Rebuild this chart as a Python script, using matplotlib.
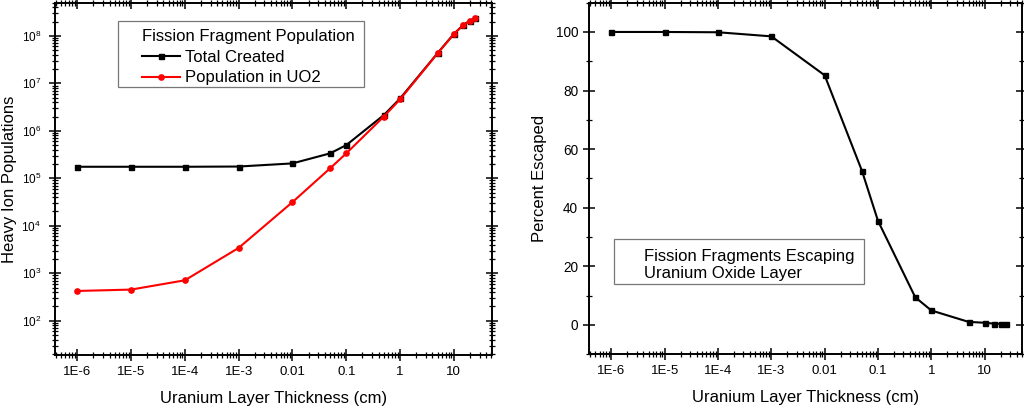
import matplotlib
matplotlib.use("Agg")
import matplotlib.pyplot as plt
from matplotlib.patches import Rectangle
from matplotlib.ticker import FixedLocator, FixedFormatter, LogLocator, MultipleLocator, NullFormatter

plt.rcParams['font.family'] = ['Liberation Sans', 'DejaVu Sans']
plt.rcParams['mathtext.fontset'] = 'custom'
plt.rcParams['mathtext.rm'] = 'Liberation Sans'
plt.rcParams['mathtext.it'] = 'Liberation Sans'

thickness = [1e-6, 1e-5, 1e-4, 1e-3, 0.01, 0.05, 0.1, 0.5, 1, 5, 10, 15, 20, 25]
total_created = [1.75e5, 1.75e5, 1.75e5, 1.77e5, 2.06e5, 3.35e5, 5.0e5, 2.15e6, 4.8e6,
                 4.35e7, 1.1e8, 1.7e8, 2.1e8, 2.36e8]
pop_in_uo2 = [424, 453, 711, 3420, 3.15e4, 1.62e5, 3.35e5, 2.0e6, 4.6e6,
              4.3e7, 1.09e8, 1.69e8, 2.09e8, 2.35e8]
percent_escaped = [100.0, 100.0, 99.9, 98.5, 85.2, 52.6, 35.5, 9.4, 4.9, 1.0, 0.7, 0.4, 0.35, 0.3]

xtick_vals = [1e-6, 1e-5, 1e-4, 1e-3, 0.01, 0.1, 1, 10]
xtick_labels = ['1E-6', '1E-5', '1E-4', '1E-3', '0.01', '0.1', '1', '10']
ytick_vals_left = [1e2, 1e3, 1e4, 1e5, 1e6, 1e7, 1e8]
ytick_labels_left = [r'$10^{2}$', r'$10^{3}$', r'$10^{4}$', r'$10^{5}$', r'$10^{6}$', r'$10^{7}$', r'$10^{8}$']
ytick_vals_right = [0, 20, 40, 60, 80, 100]

fig = plt.figure(figsize=(10.24, 4.07), dpi=100)
ax1 = fig.add_axes([0.0537, 0.1278, 0.4263, 0.8656])
ax2 = fig.add_axes([0.5755, 0.130, 0.4225, 0.8634])

xlim = (10**-6.414, 10**1.70)


def style_axes(ax):
    for s in ax.spines.values():
        s.set_linewidth(1.4)
    ax.tick_params(which='major', direction='inout', length=8, width=1.1,
                   top=True, right=True, labelsize=9.5, pad=4)
    ax.tick_params(which='minor', direction='inout', length=4.8, width=0.9,
                   top=True, right=True)
    ax.set_xscale('log')
    ax.set_xlim(*xlim)
    ax.xaxis.set_major_locator(FixedLocator(xtick_vals))
    ax.xaxis.set_major_formatter(FixedFormatter(xtick_labels))
    ax.xaxis.set_minor_locator(LogLocator(base=10, subs=range(2, 10), numticks=20))
    ax.xaxis.set_minor_formatter(NullFormatter())
    ax.set_xlabel('Uranium Layer Thickness (cm)', fontsize=12, labelpad=9)


# Left panel
ax1.plot(thickness, total_created, color='black', lw=1.5, marker='s', ms=3.6,
         label='Total Created', zorder=3)
ax1.plot(thickness, pop_in_uo2, color='red', lw=1.5, marker='o', ms=3.8,
         label='Population in UO2', zorder=4)
style_axes(ax1)
ax1.set_yscale('log')
ax1.set_ylim(19, 5e8)
ax1.yaxis.set_major_locator(FixedLocator(ytick_vals_left))
ax1.yaxis.set_major_formatter(FixedFormatter(ytick_labels_left))
ax1.yaxis.set_minor_locator(LogLocator(base=10, subs=range(2, 10), numticks=20))
ax1.yaxis.set_minor_formatter(NullFormatter())
ax1.tick_params(axis='y', which='major', labelsize=8.5, pad=6)
ax1.set_ylabel('Heavy Ion Populations', fontsize=12, labelpad=3)
ax1.add_patch(Rectangle((0.1443, 0.7616), 0.5633, 0.1864, transform=ax1.transAxes,
                        facecolor='white', edgecolor='#777777', lw=0.9, zorder=5))
leg1 = ax1.legend(loc='upper left', bbox_to_anchor=(0.1985, 0.9240), title='Fission Fragment Population',
                  fontsize=12, title_fontsize=12, frameon=False,
                  handlelength=2.3, borderpad=0, labelspacing=0.33,
                  handletextpad=0.3, borderaxespad=0, alignment='left')
leg1.set_zorder(6)

# Right panel
ax2.plot(thickness, percent_escaped, color='black', lw=1.5, marker='s', ms=3.6, zorder=3)
style_axes(ax2)
ax2.set_ylim(-10, 110)
ax2.yaxis.set_major_locator(FixedLocator(ytick_vals_right))
ax2.yaxis.set_minor_locator(MultipleLocator(10))
ax2.tick_params(axis='y', which='major', labelsize=9.8)
ax2.set_ylabel('Percent Escaped', fontsize=12, labelpad=6)
ax2.add_patch(Rectangle((0.0564, 0.1984), 0.5776, 0.129, transform=ax2.transAxes,
                        facecolor='white', edgecolor='#777777', lw=0.9, zorder=5))
ax2.text(0.1257, 0.2533, 'Fission Fragments Escaping\nUranium Oxide Layer', transform=ax2.transAxes,
         fontsize=12, ha='left', va='center', linespacing=1.2, zorder=6)

fig.savefig('out.png', dpi=100)
